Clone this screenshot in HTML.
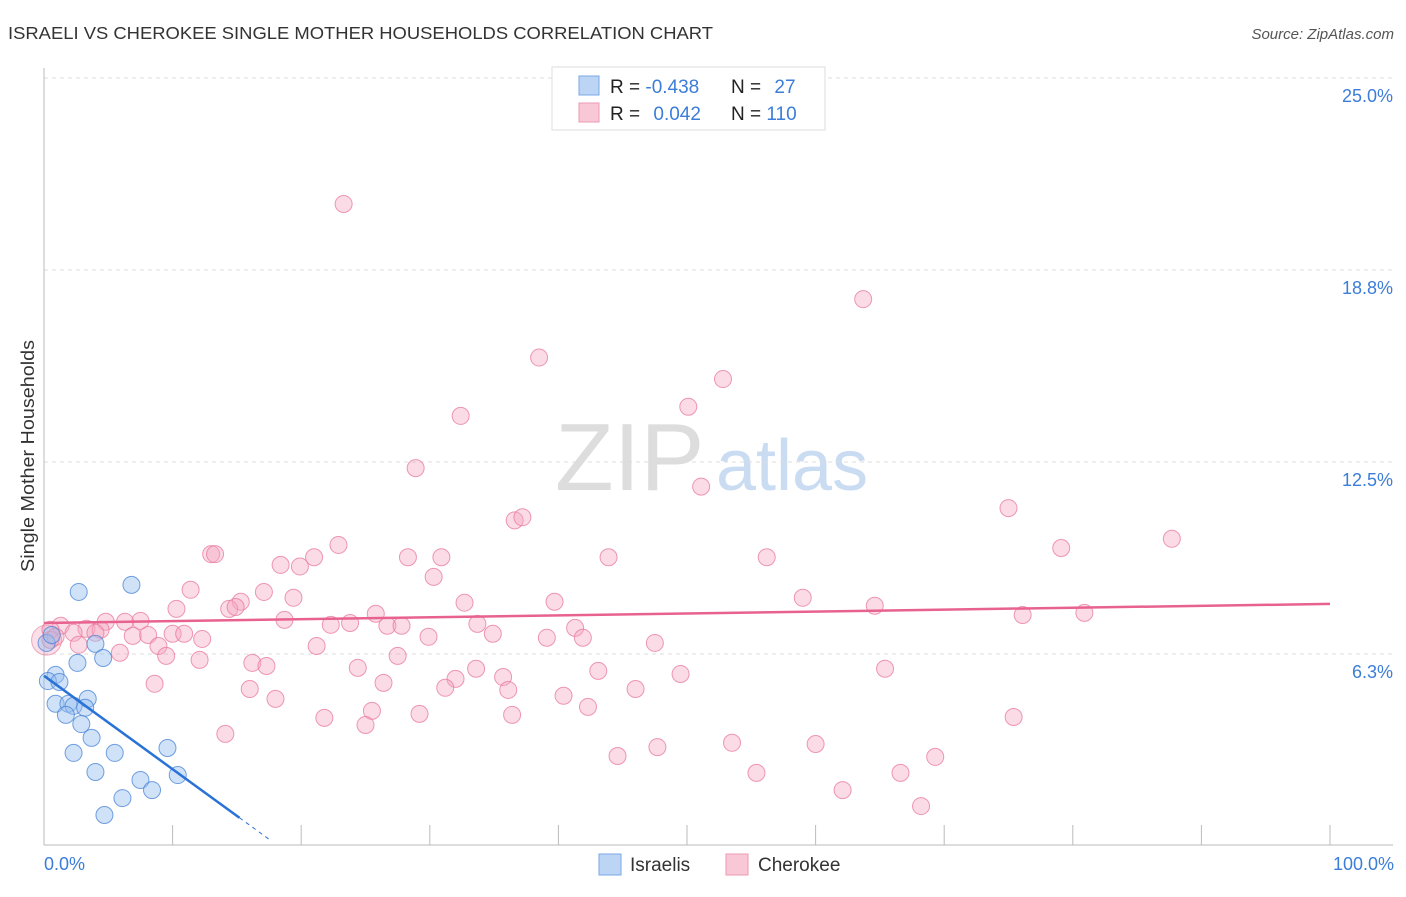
<!DOCTYPE html>
<html><head><meta charset="utf-8"><style>
body{margin:0;background:#fff;font-family:"Liberation Sans",sans-serif;}
svg text{font-family:"Liberation Sans",sans-serif;}
</style></head><body>
<svg id="chart" width="1406" height="892" xmlns="http://www.w3.org/2000/svg">
<text x="8" y="39" font-size="17.5" fill="#333" textLength="705" lengthAdjust="spacingAndGlyphs">ISRAELI VS CHEROKEE SINGLE MOTHER HOUSEHOLDS CORRELATION CHART</text>
<text x="1394" y="39" font-size="15" fill="#555" font-style="italic" text-anchor="end">Source: ZipAtlas.com</text>
<text x="555" y="490" font-size="96" fill="#ddd" font-family="Liberation Serif">ZIP</text>
<text x="716" y="490" font-size="72" fill="#c9dcf2">atlas</text>
<g id="grid"></g>
<g id="axes"></g>
<g id="pts"></g>
<g id="trends"></g>
<text transform="translate(34,456) rotate(-90)" font-size="18" fill="#333" text-anchor="middle" textLength="232" lengthAdjust="spacingAndGlyphs">Single Mother Households</text>
<text x="44" y="870" font-size="18" fill="#3b7dd8">0.0%</text>
<text x="1394" y="870" font-size="18" fill="#3b7dd8" text-anchor="end">100.0%</text>
<g>
<rect x="552" y="67" width="273" height="63" fill="#fff" stroke="#ddd"/>
<rect x="579" y="76" width="20" height="19" fill="#bcd5f5" stroke="#7aa8e6"/>
<rect x="579" y="103" width="20" height="19" fill="#f8c8d6" stroke="#ec9ab3"/>
<text x="610" y="93" font-size="19" fill="#222">R = <tspan fill="#3b7dd8">-0.438</tspan></text>
<text x="731" y="93" font-size="19" fill="#222">N = <tspan fill="#3b7dd8" dx="8">27</tspan></text>
<text x="610" y="120" font-size="19" fill="#222">R = <tspan fill="#3b7dd8" dx="8">0.042</tspan></text>
<text x="731" y="120" font-size="19" fill="#222">N = <tspan fill="#3b7dd8">110</tspan></text>
</g>
<g><rect x="599" y="854" width="22" height="21" fill="#bcd5f5" stroke="#7aa8e6"/><text x="630" y="871" font-size="19" fill="#333">Israelis</text></g>
<g><rect x="726" y="854" width="22" height="21" fill="#f8c8d6" stroke="#ec9ab3"/><text x="758" y="871" font-size="19" fill="#333">Cherokee</text></g>
</svg>
<script>
const yTicks=[6.25,12.5,18.75,25];
const yTickLabels=["6.3%","12.5%","18.8%","25.0%"];
const israeliX=[2.7,6.8,4.0,0.9,2.6,4.6,0.3,1.2,0.9,3.4,1.9,2.3,1.7,3.2,2.9,3.7,2.3,5.5,9.6,4.0,7.5,10.4,8.4,6.1,4.7,0.2,0.6];
const israeliY=[8.27,8.5,6.58,5.57,5.96,6.12,5.37,5.34,4.63,4.79,4.63,4.56,4.27,4.5,3.97,3.52,3.03,3.03,3.19,2.41,2.15,2.31,1.82,1.56,1.01,6.61,6.87];
const cherokeeX=[23.3,63.7,38.5,52.8,50.1,32.4,28.9,51.1,75.0,36.6,37.2,87.7,79.1,13.0,13.3,22.9,21.0,28.3,30.9,43.9,56.2,18.4,19.9,30.3,11.4,17.1,19.4,15.3,32.7,39.7,59.0,64.6,10.3,14.4,14.9,25.8,76.1,80.9,18.7,7.5,4.8,6.3,1.3,0.5,3.3,4.4,22.3,23.8,26.7,27.8,33.7,41.3,34.9,39.1,41.9,47.5,2.3,4.0,6.9,8.1,10.0,10.9,12.3,29.9,21.2,8.9,2.7,5.9,9.5,12.1,16.2,17.3,27.5,24.4,33.6,35.7,43.1,49.5,65.4,8.6,26.4,32.0,31.2,16.0,36.1,40.4,46.0,18.0,42.3,25.5,29.2,21.8,25.0,36.4,75.4,14.1,47.7,53.5,60.0,44.6,69.3,55.4,66.6,62.1,68.2,48.1,0.5,0.9];
const cherokeeY=[20.9,17.8,15.9,15.2,14.3,14.0,12.3,11.7,11.0,10.6,10.7,10.0,9.7,9.5,9.5,9.8,9.4,9.4,9.4,9.4,9.4,9.15,9.1,8.76,8.34,8.27,8.08,7.95,7.92,7.95,8.08,7.82,7.72,7.72,7.78,7.56,7.52,7.59,7.36,7.33,7.30,7.30,7.17,7.04,7.07,7.04,7.2,7.26,7.17,7.17,7.23,7.10,6.91,6.78,6.78,6.61,6.94,6.94,6.84,6.87,6.91,6.91,6.74,6.81,6.51,6.51,6.55,6.29,6.19,6.06,5.96,5.86,6.19,5.80,5.77,5.50,5.70,5.60,5.77,5.28,5.31,5.44,5.15,5.11,5.08,4.89,5.11,4.79,4.53,4.40,4.30,4.17,3.94,4.27,4.20,3.65,3.22,3.36,3.32,2.93,2.90,2.38,2.38,1.82,1.30,24.95,6.71,6.81];
const israeliTrend=[5.54,-0.304];
const cherokeeTrend=[7.26,0.0062];
const NS="http://www.w3.org/2000/svg";
const X0=44,X1=1330,Y0=846,PXY=30.72;
function sx(v){return X0+(X1-X0)*v/100;}
function sy(v){return Y0-v*PXY;}
function mk(t,a,p){const e=document.createElementNS(NS,t);for(const k in a)e.setAttribute(k,a[k]);document.getElementById(p).appendChild(e);return e;}
yTicks.forEach((t,i)=>{
 const l=mk('line',{x1:44,x2:1393,y1:sy(t),y2:sy(t),stroke:'#ddd','stroke-dasharray':'4,4'},'grid');
 
 
 const tx=mk('text',{x:1393,y:sy(t)+24,'font-size':18,fill:'#3b7dd8','text-anchor':'end'},'grid');
 tx.textContent=yTickLabels[i];
 
 
});
let ax=mk('line',{x1:44,x2:44,y1:68,y2:845,stroke:'#bbb'},'axes');


ax=mk('line',{x1:44,x2:1393,y1:845,y2:845,stroke:'#bbb'},'axes');


for(let i=1;i<=10;i++){
 const t=mk('line',{x1:sx(i*10),x2:sx(i*10),y1:825,y2:845,stroke:'#bbb'},'axes');
 
 
}
const big=mk('circle',{cx:sx(0.2),cy:sy(6.7),r:15,fill:'rgba(240,150,180,0.3)',stroke:'rgba(230,120,155,0.6)'},'pts');


cherokeeX.forEach((x,i)=>{
 const c=mk('circle',{cx:sx(x),cy:sy(cherokeeY[i]),r:8.5,fill:'rgba(246,165,192,0.4)',stroke:'rgba(232,120,155,0.75)'},'pts');
 
 
});
israeliX.forEach((x,i)=>{
 const c=mk('circle',{cx:sx(x),cy:sy(israeliY[i]),r:8.5,fill:'rgba(150,190,240,0.45)',stroke:'rgba(70,130,215,0.75)'},'pts');
 
 
});
const f=(t,x)=>t[0]+t[1]*x;
let tl=mk('line',{x1:sx(0),y1:sy(f(israeliTrend,0)),x2:sx(15.2),y2:sy(f(israeliTrend,15.2)),stroke:'#2a72d6','stroke-width':2.5},'trends');


tl=mk('line',{x1:sx(15.2),y1:sy(f(israeliTrend,15.2)),x2:sx(17.7),y2:sy(f(israeliTrend,17.7)),stroke:'#2a72d6','stroke-width':1,'stroke-dasharray':'4,4'},'trends');


tl=mk('line',{x1:sx(0),y1:sy(f(cherokeeTrend,0)),x2:sx(100),y2:sy(f(cherokeeTrend,100)),stroke:'#e8628f','stroke-width':2.5},'trends');


</script>
</body></html>
